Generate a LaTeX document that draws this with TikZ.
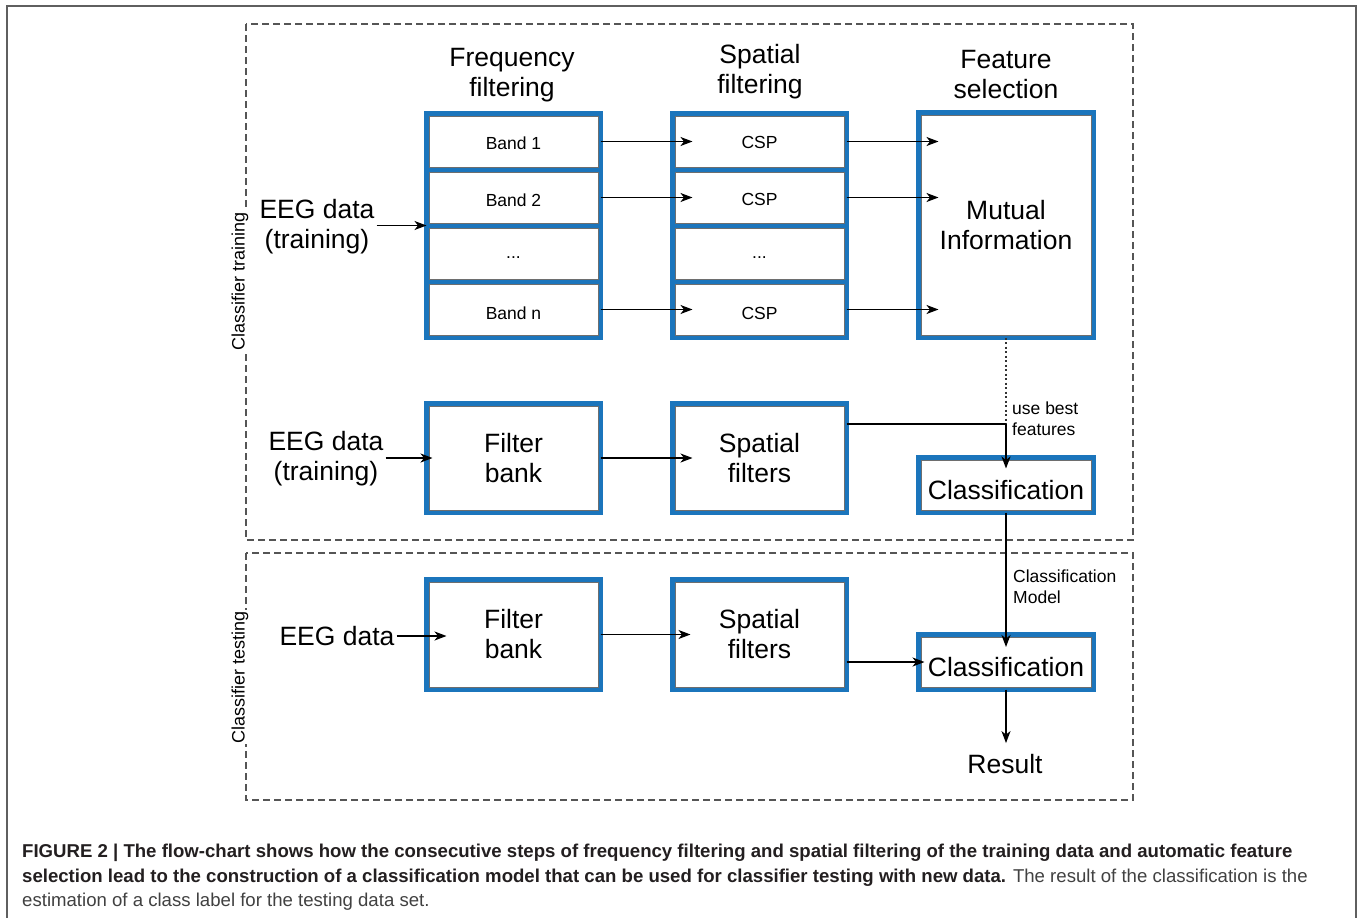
\documentclass[tikz,border=0pt]{standalone}
\usepackage{fontspec}
\setmainfont{Liberation Sans}
\usetikzlibrary{arrows.meta,calc}
\definecolor{boxblue}{RGB}{27,117,188}
\definecolor{framegray}{RGB}{95,95,95}
\definecolor{dashgray}{RGB}{85,85,85}
\definecolor{innergray}{RGB}{110,110,110}
\definecolor{captxt}{RGB}{35,31,32}
\definecolor{capreg}{RGB}{65,65,65}
\newcommand{\fsz}[2]{\fontsize{#1}{#2}\selectfont}
\newcommand{\low}[2]{\raisebox{-#1}[\height][\depth]{#2}}
\begin{document}
\begin{tikzpicture}[x=1pt,y=-1pt,
  bluebox/.style={draw=boxblue, line width=4.5pt, fill=white, inner sep=0pt, outer sep=0pt, align=center},
  band/.style={bluebox, minimum width=174pt, minimum height=56pt, font=\fsz{17.5pt}{21pt}},
  bigbox/.style={bluebox, minimum width=174pt, minimum height=110pt, font=\fsz{26.5pt}{30pt}},
  clbox/.style={bluebox, minimum width=175pt, minimum height=55pt, font=\fsz{26.5pt}{30pt}},
  bigtxt/.style={align=center, inner sep=2pt, font=\fsz{26.5pt}{30pt}},
  smalltxt/.style={align=left, inner sep=0pt, anchor=west, font=\fsz{17.5pt}{21pt}},
  sidelbl/.style={rotate=90, fill=white, inner sep=1pt, font=\fsz{18pt}{21pt}},
  group/.style={draw=dashgray, line width=1.2pt, dash pattern=on 7pt off 4pt},
  arr/.style={draw=black, line width=1.4pt, -{Stealth[length=12pt,width=9pt,inset=3.5pt]}},
  plain/.style={draw=black, line width=1.4pt},
  dotline/.style={draw=black!80, line width=1.4pt, dash pattern=on 2pt off 2.5pt},
  innerline/.style={draw=innergray, line width=0.7pt},
  captxtb/.style={anchor=base west, inner sep=0pt, font=\fsz{18.6pt}{22pt}, text=captxt}
]
\useasboundingbox (0,0) rectangle (1360,918);
\fill[white] (0,0) rectangle (1360,918);
% outer frame
\draw[framegray, line width=1.5pt] (7,930) -- (7,6) -- (1356,6) -- (1356,930);
% groups
\draw[group] (246,24) rectangle (1133,540);
\draw[group] (246,553) rectangle (1133,800);
\node[sidelbl] (ltrain) at (240,281) {Classifier training};
\node[sidelbl] (ltest) at (240,677) {Classifier testing};

% headers
\node[bigtxt] (hf) at (512,75) {Frequency\\filtering};
\node[bigtxt] (hs) at (760,72) {Spatial\\filtering};
\node[bigtxt] (hfs) at (1006,75) {Feature\\selection};

% training column boxes
\node[band] (b1) at (513.5,141.5) {\low{2pt}{Band 1}};
\node[band] (b2) at (513.5,197.5) {\low{2.5pt}{Band 2}};
\node[band] (b3) at (513.5,253.5) {\low{4pt}{...}};
\node[band] (bn) at (513.5,309.5) {\low{4pt}{Band n}};
\node[band] (c1) at (759.5,141.5) {\low{1pt}{CSP}};
\node[band] (c2) at (759.5,197.5) {\low{2pt}{CSP}};
\node[band] (c3) at (759.5,253.5) {\low{4pt}{...}};
\node[band] (cn) at (759.5,309.5) {\low{3.5pt}{CSP}};
\node[bluebox, minimum width=175pt, minimum height=225pt, font=\fsz{26.5pt}{30pt}] (mi) at (1006,225) {Mutual\\Information};

% training second row
\node[bigbox, minimum height=109pt] (fb1) at (513.5,458) {Filter\\bank};
\node[bigbox, minimum height=109pt] (sf1) at (759.5,458) {Spatial\\filters};
\node[clbox] (cl1) at (1006,485) {\low{5pt}{Classification}};

% testing row
\node[bigbox] (fb2) at (513.5,634.5) {Filter\\bank};
\node[bigbox] (sf2) at (759.5,634.5) {Spatial\\filters};
\node[clbox] (cl2) at (1006,662) {\low{5pt}{Classification}};

% inner grey hairlines of the blue boxes
\foreach \n in {b1,b2,b3,bn,c1,c2,c3,cn,mi,fb1,sf1,cl1,fb2,sf2,cl2}
  \draw[innerline] ([shift={(2.6,2.6)}]\n.north west) rectangle ([shift={(-2.6,-2.6)}]\n.south east);

% inputs
\node[bigtxt] (e1) at (317,227) {EEG data\\(training)};
\node[bigtxt] (e2) at (326,459) {EEG data\\(training)};
\node[bigtxt] (e3) at (337,636) {EEG data};
\node[bigtxt] (res) at (1005,764) {Result};

% labels
\node[smalltxt] (lbest) at (1012,419) {use best\\features};
\node[smalltxt] (lmodel) at (1013,587) {Classification\\Model};

% connectors training top
\draw[arr] (e1.east |- b2.south west) -- (b2.south west);
\draw[arr] (b1.east) -- ($(c1.west)+(20,0)$);
\draw[arr] (b2.east) -- ($(c2.west)+(20,0)$);
\draw[arr] (bn.east) -- ($(cn.west)+(20,0)$);
\draw[arr] (c1.east) -- ($(c1.east -| mi.west)+(20,0)$);
\draw[arr] (c2.east) -- ($(c2.east -| mi.west)+(20,0)$);
\draw[arr] (cn.east) -- ($(cn.east -| mi.west)+(20,0)$);

% training second row
\coordinate (j1) at (1006,424);
\draw[arr] (e2.east |- fb1.west) -- ($(fb1.west)+(6,0)$);
\draw[arr] (fb1.east) -- ($(sf1.west)+(20,0)$);
\draw[dotline] (mi.south) -- (j1);
\draw[plain] (sf1.east |- j1) -- (j1);
\draw[arr] (j1) -- ($(cl1.north)+(0,11)$);

% model to testing
\draw[arr] (cl1.south) -- ($(cl2.north)+(0,12.5)$);

% testing row
\draw[arr] (e3.east) -- ($(e3.east -| fb2.west)+(20,0)$);
\draw[arr] (fb2.east) -- ($(sf2.west)+(18,0)$);
\draw[arr] (sf2.east |- cl2.west) -- ($(cl2.west)+(6,0)$);
\draw[arr] (cl2.south) -- ($(cl2.south |- res.north)+(0,-9)$);

% caption
\node[captxtb, font=\fsz{18.6pt}{22pt}\bfseries] (cap1) at (22,857) {FIGURE 2 | The flow-chart shows how the consecutive steps of frequency filtering and spatial filtering of the training data and automatic feature};
\node[captxtb] (cap2) at (22,882) {\textbf{selection lead to the construction of a classification model that can be used for classifier testing with new data.} \textcolor{capreg}{The result of the classification is the}};
\node[captxtb, text=capreg] (cap3) at (22,906) {estimation of a class label for the testing data set.};
\end{tikzpicture}
\end{document}
